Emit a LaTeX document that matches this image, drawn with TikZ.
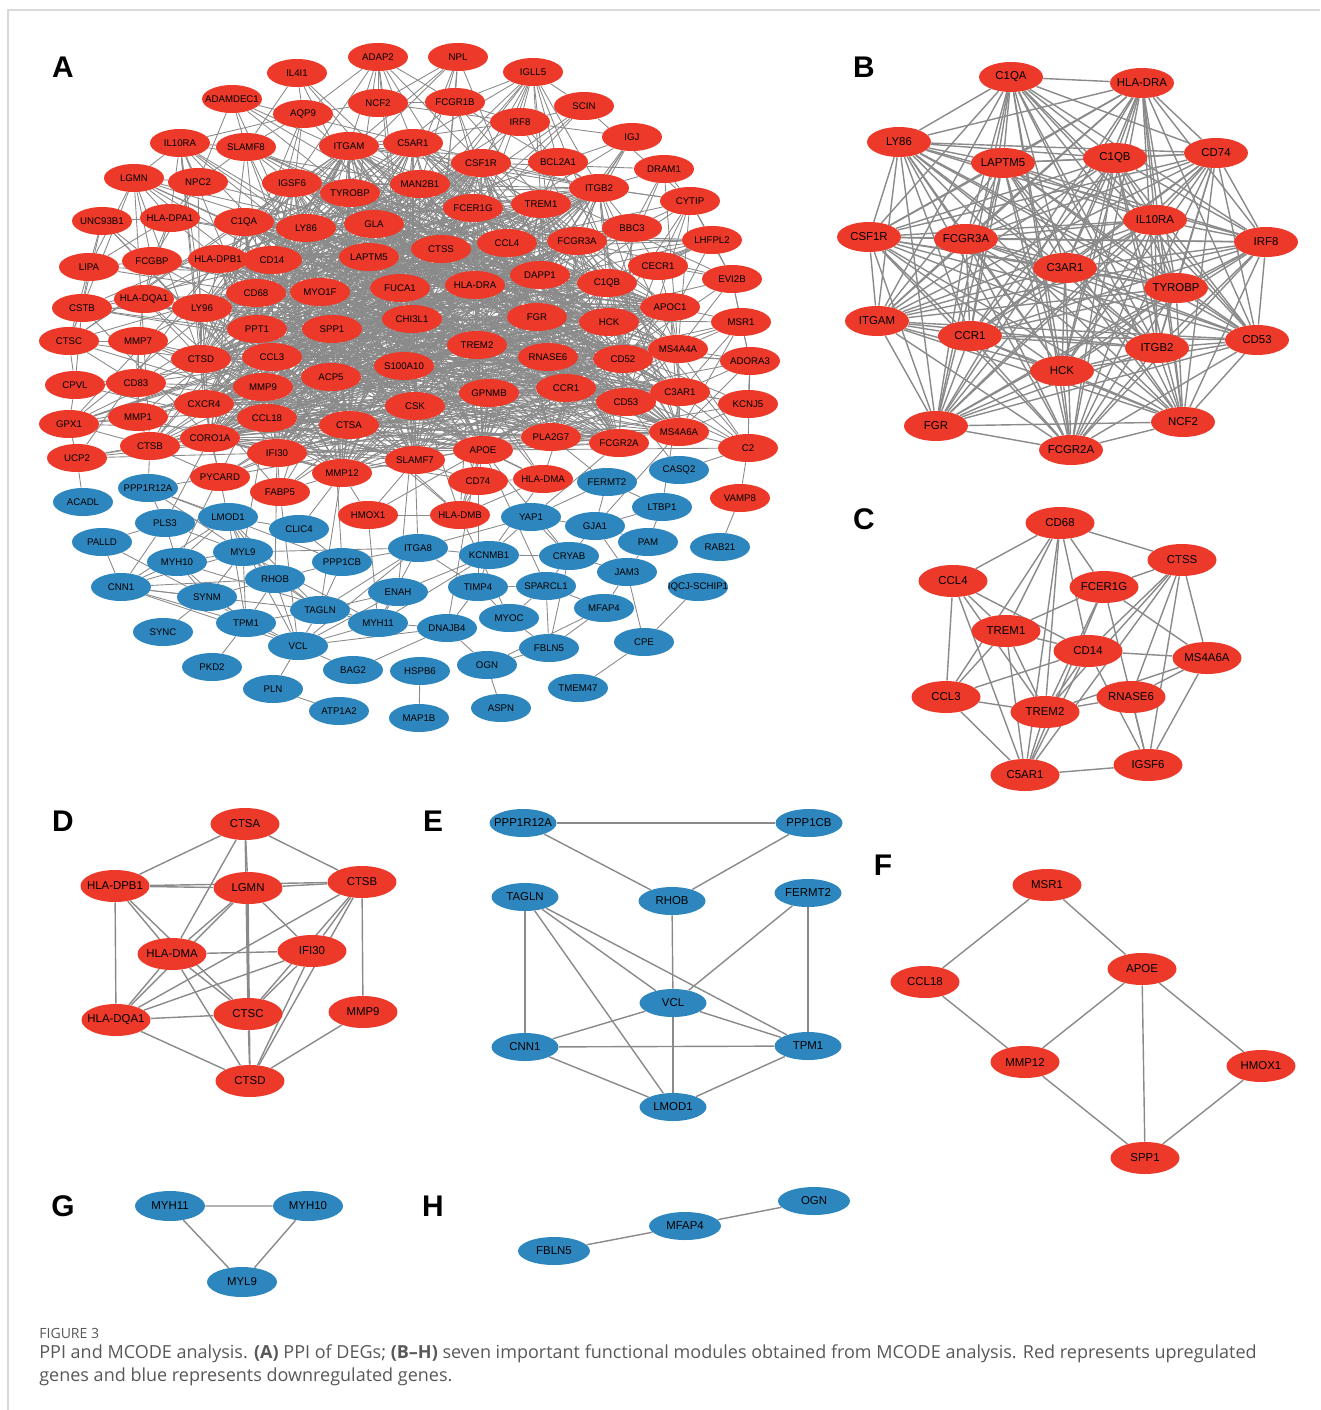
\documentclass[tikz,border=0pt]{standalone}
\usepackage{fontspec}
\setmainfont{Liberation Sans}
\newfontfamily\capfont{Open Sans}
\usetikzlibrary{shapes.geometric,backgrounds}

\definecolor{upred}{RGB}{236,57,42}
\definecolor{downblue}{RGB}{46,134,190}
\definecolor{linkgray}{RGB}{138,138,138}
\definecolor{captext}{RGB}{88,88,88}

\def\coreA{ITGAM,C5AR1,CSF1R,MAN2B1,TYROBP,IGSF6,FCER1G,TREM1,ITGB2,C1QA,LY86,GLA,CTSS,CCL4,FCGR3A,LAPTM5,CD14,HLA-DPB1,DAPP1,C1QB,HLA-DRA,FUCA1,MYO1F,CD68,LY96,PPT1,SPP1,CHI3L1,FGR,HCK,TREM2,RNASE6,CD52,CCL3,CTSD,MMP9,ACP5,S100A10,GPNMB,CCR1,CD53,CSK,CTSA,CXCR4,CCL18,C3AR1,MS4A4A,APOC1,MS4A6A,PLA2G7,FCGR2A,APOE,SLAMF7,IFI30,CORO1A,MMP12}
\def\ringA{ADAP2,NPL,IL4I1,IGLL5,ADAMDEC1,NCF2,FCGR1B,AQP9,SCIN,IRF8,IGJ,IL10RA,SLAMF8,BCL2A1,DRAM1,LGMN,NPC2,CYTIP,UNC93B1,HLA-DPA1,BBC3,LHFPL2,LIPA,FCGBP,CECR1,EVI2B,HLA-DQA1,CSTB,MSR1,CTSC,MMP7,ADORA3,CPVL,CD83,KCNJ5,MMP1,GPX1,CTSB,C2,UCP2,PYCARD,CD74,HLA-DMA,FABP5,HLA-DMB,HMOX1}
\def\listB{C1QA,HLA-DRA,LY86,LAPTM5,C1QB,CD74,IL10RA,CSF1R,FCGR3A,IRF8,C3AR1,TYROBP,ITGAM,CCR1,ITGB2,CD53,HCK,FGR,NCF2,FCGR2A}

\begin{document}
\begin{tikzpicture}[x=0.02cm,y=-0.02cm,
    gene/.style={ellipse,inner sep=0pt,text=black,
      execute at begin node={\hbox to 0pt\bgroup\hss},
      execute at end node={\hss\egroup}},
    upA/.style={gene,fill=upred,minimum width=1.2cm,minimum height=0.56cm,font=\fontsize{5.5}{6}\selectfont},
    downA/.style={upA,fill=downblue},
    upM/.style={gene,fill=upred,minimum width=1.38cm,minimum height=0.64cm,font=\fontsize{6.5}{7}\selectfont},
    downM/.style={upM,fill=downblue,minimum width=1.34cm,minimum height=0.56cm},
    linkA/.style={draw=linkgray,line width=0.5pt},
    linkM/.style={draw=linkgray,line width=0.8pt},
    panel/.style={font=\fontsize{17}{17}\selectfont\bfseries}]
  \useasboundingbox (0,0) rectangle (1320,1410);
  \draw[black!15,line width=0.6pt] (8,1410) -- (8,10) -- (1320,10);

  % A: whole network
  \node[panel] (labA) at (63,67) {A};
  \foreach \g/\x/\y in {ADAP2/378/57,NPL/458/57,IL4I1/297/73,IGLL5/533/72,ADAMDEC1/232/99,NCF2/378/103,FCGR1B/455/102,AQP9/303/114,SCIN/584/106,IRF8/520/122,IGJ/632/137,IL10RA/180/143,SLAMF8/246/147,ITGAM/349/146,C5AR1/413/143,CSF1R/481/163,BCL2A1/558/162,DRAM1/664/169,LGMN/134/178,NPC2/198/182,IGSF6/292/183,TYROBP/350/193,MAN2B1/420/184,ITGB2/599/188,CYTIP/690/201,FCER1G/473/208,TREM1/541/204,UNC93B1/102/221,HLA-DPA1/170/218,C1QA/244/222,LY86/306/228,GLA/374/224,BBC3/632/228,FCGR3A/577/241,LHFPL2/712/240,CTSS/441/249,CCL4/507/243,LIPA/89/267,FCGBP/152/261,HLA-DPB1/218/259,CD14/272/260,LAPTM5/369/257,CECR1/658/266,DAPP1/540/275,EVI2B/732/279,C1QB/607/283,CD68/256/293,MYO1F/320/292,FUCA1/400/288,HLA-DRA/475/285,HLA-DQA1/144/299,CSTB/82/308,LY96/202/308,APOC1/670/307,CHI3L1/412/319,FGR/537/317,HCK/609/322,MSR1/741/322,PPT1/257/329,SPP1/332/329,CTSC/69/341,MMP7/138/341,TREM2/477/345,MS4A4A/678/349,CTSD/201/359,CCL3/272/357,RNASE6/548/357,CD52/623/359,ADORA3/750/361,S100A10/404/366,CPVL/75/385,CD83/136/383,MMP9/263/387,ACP5/331/377,GPNMB/489/393,CCR1/566/388,C3AR1/680/392,CD53/626/402,KCNJ5/748/404,CXCR4/204/404,CSK/415/406,MMP1/138/417,CCL18/267/418,GPX1/69/424,CTSA/349/425,MS4A6A/679/432,CTSB/150/446,CORO1A/210/438,PLA2G7/551/437,FCGR2A/619/443,C2/748/448,IFI30/277/453,SLAMF7/415/460,APOE/483/450,UCP2/77/458,MMP12/342/473,PYCARD/220/477,CD74/478/481,HLA-DMA/543/479,FABP5/280/492,VAMP8/740/498,HMOX1/368/515,HLA-DMB/460/515}
    \node[upA] (\g) at (\x,\y) {\g};
  \foreach \g/\x/\y in {CASQ2/679/470,FERMT2/607/482,PPP1R12A/148/488,ACADL/83/502,LTBP1/662/507,PLS3/165/523,LMOD1/228/517,YAP1/531/517,GJA1/595/526,CLIC4/299/529,PALLD/102/542,PAM/648/542,RAB21/720/547,MYL9/243/552,ITGA8/418/548,KCNMB1/489/555,CRYAB/569/556,MYH10/177/562,PPP1CB/342/562,JAM3/627/572,RHOB/275/579,ENAH/398/592,TIMP4/478/587,SPARCL1/546/586,IQCJ-SCHIP1/698/587,CNN1/121/587,SYNM/207/597,MFAP4/604/608,TAGLN/320/610,TPM1/246/623,MYH11/378/623,DNAJB4/447/628,MYOC/509/618,SYNC/163/632,VCL/298/646,FBLN5/549/648,CPE/644/642,PKD2/212/667,BAG2/353/670,HSPB6/420/671,OGN/487/665,PLN/273/689,TMEM47/578/688,ATP1A2/339/711,MAP1B/419/718,ASPN/501/708}
    \node[downA] (\g) at (\x,\y) {\g};

  \begin{scope}[on background layer]
    \pgfmathsetseed{11}
    \foreach \a [count=\i] in \coreA {
      \foreach \b [count=\j] in \coreA {
        \ifnum\j>\i
          \pgfmathrandominteger{\r}{1}{100}
          \ifnum\r<56 \draw[linkA] (\a) -- (\b);\fi
        \fi
      }
    }
    \foreach \a in \ringA {
      \foreach \b in \coreA {
        \pgfmathrandominteger{\r}{1}{100}
        \ifnum\r<9 \draw[linkA] (\a) -- (\b);\fi
      }
    }
    \foreach \a/\b in {ADAP2/NCF2,ADAP2/ITGAM,ADAP2/C5AR1,ADAP2/FCGR1B,ADAP2/CSF1R,ADAP2/IGSF6,ADAP2/AQP9,NPL/NCF2,NPL/FCGR1B,IL4I1/SLAMF8,IL4I1/AQP9,IGLL5/IRF8,IGLL5/FCGR1B,IGLL5/CSF1R,IGLL5/BCL2A1,IGLL5/ITGB2,IGLL5/FCER1G,IGLL5/TREM1,IGLL5/SCIN,ADAMDEC1/SLAMF8,ADAMDEC1/NPC2,NCF2/AQP9,NCF2/FCGR1B,NCF2/IRF8,FCGR1B/IRF8,AQP9/SLAMF8,AQP9/IL10RA,SCIN/IRF8,SCIN/CYTIP,IGJ/ITGB2,IGJ/IRF8,IRF8/BCL2A1,IL10RA/SLAMF8,IL10RA/NPC2,IL10RA/LGMN,IL10RA/HLA-DPA1,SLAMF8/NPC2,BCL2A1/ITGB2,DRAM1/ITGB2,DRAM1/BBC3,DRAM1/CYTIP,LGMN/HLA-DPA1,LGMN/NPC2,LGMN/LIPA,LGMN/FCGBP,LGMN/CTSB,LGMN/CTSD,LGMN/CTSC,NPC2/HLA-DPA1,NPC2/FCGBP,CYTIP/ITGB2,CYTIP/BBC3,CYTIP/CECR1,CYTIP/EVI2B,CYTIP/LHFPL2,UNC93B1/HLA-DPA1,UNC93B1/LIPA,UNC93B1/FCGBP,UNC93B1/CSTB,HLA-DPA1/HLA-DPB1,HLA-DPA1/FCGBP,HLA-DPA1/HLA-DQA1,HLA-DPA1/LIPA,BBC3/ITGB2,BBC3/CECR1,LHFPL2/EVI2B,LHFPL2/CECR1,LHFPL2/FCGR3A,LIPA/CSTB,LIPA/FCGBP,LIPA/CTSC,FCGBP/HLA-DQA1,CECR1/EVI2B,CECR1/APOC1,EVI2B/MSR1,EVI2B/MS4A4A,EVI2B/ADORA3,HLA-DQA1/CSTB,HLA-DQA1/LY96,HLA-DQA1/MMP7,HLA-DQA1/CTSD,HLA-DQA1/HLA-DPB1,CSTB/CTSC,CSTB/CPVL,CSTB/LY96,APOC1/MSR1,APOC1/MS4A4A,MSR1/MS4A4A,MSR1/ADORA3,MSR1/C3AR1,MSR1/CD52,CTSC/MMP7,CTSC/CPVL,CTSC/CTSD,CTSC/CD83,MMP7/CD83,MMP7/MMP1,MMP7/MMP9,MMP7/CTSD,MS4A4A/ADORA3,ADORA3/C3AR1,ADORA3/C2,ADORA3/KCNJ5,CPVL/CD83,CPVL/GPX1,CD83/MMP1,CD83/CXCR4,CD83/MMP9,KCNJ5/C3AR1,KCNJ5/C2,KCNJ5/MS4A6A,MMP1/GPX1,MMP1/CTSB,MMP1/MMP9,MMP1/MMP12,MMP1/CXCR4,GPX1/CTSB,GPX1/UCP2,CTSB/CORO1A,CTSB/CTSD,CTSB/PYCARD,C2/MS4A6A,C2/C3AR1,C2/CASQ2,UCP2/ACADL,UCP2/CTSB,PYCARD/CORO1A,PYCARD/IFI30,PYCARD/PPP1R12A,CD74/HLA-DMA,CD74/HLA-DMB,CD74/APOE,HLA-DMA/HLA-DMB,HLA-DMA/APOE,FABP5/MMP12,FABP5/IFI30,FABP5/SPP1,VAMP8/RAB21,VAMP8/C2,HMOX1/MMP12,HMOX1/SLAMF7,HMOX1/APOE,HMOX1/HLA-DMB,HLA-DMB/APOE}
      \draw[linkA] (\a) -- (\b);
    \foreach \a/\b in {PPP1R12A/PPP1CB,PPP1R12A/PLS3,PPP1R12A/MYL9,PPP1R12A/LMOD1,PLS3/PALLD,PLS3/MYH10,PLS3/LMOD1,PLS3/CNN1,PLS3/MYL9,LMOD1/MYL9,LMOD1/MYH10,LMOD1/RHOB,LMOD1/TAGLN,LMOD1/CNN1,LMOD1/TPM1,LMOD1/VCL,LMOD1/CLIC4,MYL9/MYH10,MYL9/RHOB,MYL9/CNN1,MYL9/TPM1,MYL9/TAGLN,MYL9/MYH11,MYL9/ITGA8,MYL9/SYNM,MYH10/CNN1,MYH10/SYNM,MYH10/TPM1,MYH10/MYH11,PALLD/SYNM,PALLD/CNN1,CNN1/SYNM,CNN1/TPM1,CNN1/RHOB,CNN1/TAGLN,CNN1/VCL,SYNM/SYNC,SYNM/TPM1,SYNM/RHOB,SYNM/VCL,TPM1/PKD2,TPM1/VCL,TPM1/RHOB,TPM1/TAGLN,RHOB/PPP1CB,RHOB/VCL,RHOB/TAGLN,CLIC4/PPP1CB,PPP1CB/TAGLN,PPP1CB/ITGA8,ITGA8/KCNMB1,ITGA8/TAGLN,ITGA8/VCL,ITGA8/MYH11,ITGA8/YAP1,KCNMB1/TIMP4,KCNMB1/CRYAB,KCNMB1/YAP1,KCNMB1/ENAH,KCNMB1/MYH11,ENAH/TAGLN,ENAH/MYH11,ENAH/VCL,TAGLN/MYH11,TAGLN/VCL,VCL/MYH11,VCL/PLN,VCL/DNAJB4,VCL/BAG2,PLN/ATP1A2,BAG2/DNAJB4,DNAJB4/OGN,DNAJB4/TIMP4,DNAJB4/MYH11,HSPB6/MAP1B,OGN/ASPN,OGN/FBLN5,OGN/MFAP4,MYOC/FBLN5,MYOC/TIMP4,MYOC/SPARCL1,TIMP4/SPARCL1,TIMP4/ITGA8,SPARCL1/CRYAB,SPARCL1/FBLN5,SPARCL1/MFAP4,CRYAB/GJA1,CRYAB/JAM3,CRYAB/FBLN5,CRYAB/YAP1,GJA1/YAP1,GJA1/PAM,GJA1/JAM3,GJA1/LTBP1,PAM/LTBP1,PAM/JAM3,JAM3/MFAP4,JAM3/CPE,MFAP4/FBLN5,IQCJ-SCHIP1/CPE,CPE/TMEM47,LTBP1/FERMT2,FERMT2/YAP1,FERMT2/GJA1}
      \draw[linkA] (\a) -- (\b);
    \foreach \a/\b in {CTSB/PPP1R12A,CORO1A/PLS3,CXCR4/LMOD1,MMP12/CLIC4,SLAMF7/ITGA8,HLA-DMA/KCNMB1,FCGR2A/YAP1,MS4A6A/GJA1,C3AR1/LTBP1,APOE/CRYAB,APOE/SPARCL1,CD74/TIMP4,CSK/ENAH,GPNMB/DNAJB4,CTSA/TAGLN,IFI30/RHOB,FABP5/VCL,HMOX1/MYH11,HLA-DMB/MYOC,PLA2G7/FERMT2,CD53/CASQ2,CCL18/MYL9,MMP9/MYH10,ACP5/PPP1CB}
      \draw[linkA] (\a) -- (\b);
  \end{scope}

  % B
  \node[panel] (labB) at (864,67) {B};
  \foreach \g/\x/\y in {C1QA/1011/77,HLA-DRA/1142/83,LY86/899/142,LAPTM5/1003/163,C1QB/1115/158,CD74/1216/153,IL10RA/1155/220,CSF1R/869/237,FCGR3A/966/239,IRF8/1266/242,C3AR1/1065/268,TYROBP/1176/288,ITGAM/877/321,CCR1/970/336,ITGB2/1157/348,CD53/1257/340,HCK/1062/371,FGR/936/426,NCF2/1183/422,FCGR2A/1071/450}
    \node[upM,minimum width=1.28cm,minimum height=0.6cm] (b\g) at (\x,\y) {\g};
  \begin{scope}[on background layer]
    \foreach \a [count=\i] in \listB {
      \foreach \b [count=\j] in \listB {
        \ifnum\j>\i \draw[linkM] (b\a) -- (b\b);\fi
      }
    }
  \end{scope}

  % C
  \node[panel] (labC) at (864,519) {C};
  \foreach \g/\x/\y in {CD68/1060/523,CTSS/1182/560,CCL4/953/581,FCER1G/1104/587,TREM1/1006/631,CD14/1088/651,MS4A6A/1207/658,CCL3/946/697,TREM2/1045/712,RNASE6/1131/697,C5AR1/1025/775,IGSF6/1148/765}
    \node[upM] (c\g) at (\x,\y) {\g};
  \begin{scope}[on background layer]
    \foreach \a/\b in {CD68/CTSS,CD68/CCL4,CD68/FCER1G,CD68/TREM1,CD68/CCL3,CD68/TREM2,CD68/C5AR1,CD68/CD14,CTSS/FCER1G,CTSS/CD14,CTSS/TREM2,CTSS/RNASE6,CTSS/MS4A6A,CTSS/IGSF6,CTSS/C5AR1,CCL4/TREM1,CCL4/CD14,CCL4/CCL3,CCL4/TREM2,CCL4/C5AR1,FCER1G/TREM1,FCER1G/TREM2,FCER1G/C5AR1,FCER1G/IGSF6,FCER1G/MS4A6A,TREM1/CD14,TREM1/CCL3,TREM1/TREM2,TREM1/C5AR1,CD14/MS4A6A,CD14/CCL3,CD14/TREM2,CD14/C5AR1,CD14/IGSF6,MS4A6A/RNASE6,MS4A6A/TREM2,MS4A6A/IGSF6,CCL3/TREM2,CCL3/C5AR1,TREM2/RNASE6,TREM2/C5AR1,RNASE6/IGSF6,C5AR1/IGSF6}
      \draw[linkM] (c\a) -- (c\b);
  \end{scope}

  % D
  \node[panel] (labD) at (63,821) {D};
  \foreach \g/\x/\y in {CTSA/245/824,HLA-DPB1/115/886,LGMN/248/888,CTSB/362/882,HLA-DMA/172/954,IFI30/312/951,HLA-DQA1/116/1020,CTSC/248/1014,MMP9/363/1012,CTSD/250/1081}
    \node[upM] (d\g) at (\x,\y) {\g};
  \begin{scope}[on background layer]
    \foreach \a/\b in {CTSA/HLA-DPB1,CTSA/LGMN,CTSA/CTSB,CTSA/HLA-DMA,CTSA/CTSC,HLA-DPB1/LGMN,HLA-DPB1/CTSB,HLA-DPB1/HLA-DMA,HLA-DPB1/HLA-DQA1,HLA-DPB1/CTSC,LGMN/CTSB,LGMN/HLA-DMA,LGMN/CTSC,LGMN/IFI30,LGMN/CTSD,CTSB/HLA-DQA1,CTSB/IFI30,CTSB/CTSD,CTSB/MMP9,CTSB/CTSC,HLA-DMA/IFI30,HLA-DMA/HLA-DQA1,HLA-DMA/CTSC,HLA-DMA/CTSD,HLA-DQA1/CTSC,HLA-DQA1/CTSD,HLA-DQA1/LGMN,IFI30/CTSC,IFI30/CTSD,IFI30/HLA-DQA1,CTSC/CTSD,MMP9/CTSD}
      \draw[linkM] (d\a) -- (d\b);
  \end{scope}

  % E
  \node[panel] (labE) at (433,821) {E};
  \foreach \g/\x/\y in {PPP1R12A/523/823,PPP1CB/809/823,TAGLN/525/897,RHOB/672/901,FERMT2/808/893,VCL/673/1003,CNN1/525/1047,TPM1/808/1046,LMOD1/673/1107}
    \node[downM] (e\g) at (\x,\y) {\g};
  \begin{scope}[on background layer]
    \foreach \a/\b in {PPP1R12A/PPP1CB,PPP1R12A/RHOB,PPP1CB/RHOB,TAGLN/CNN1,TAGLN/VCL,TAGLN/TPM1,TAGLN/LMOD1,RHOB/VCL,FERMT2/VCL,FERMT2/TPM1,VCL/TPM1,VCL/CNN1,VCL/LMOD1,CNN1/TPM1,CNN1/LMOD1,TPM1/LMOD1}
      \draw[linkM] (e\a) -- (e\b);
  \end{scope}

  % F
  \node[panel] (labF) at (883,865) {F};
  \foreach \g/\x/\y in {MSR1/1047/885,CCL18/925/982,APOE/1142/969,MMP12/1025/1062,HMOX1/1261/1066,SPP1/1145/1158}
    \node[upM] (f\g) at (\x,\y) {\g};
  \begin{scope}[on background layer]
    \foreach \a/\b in {MSR1/CCL18,MSR1/APOE,CCL18/MMP12,APOE/MMP12,APOE/HMOX1,APOE/SPP1,MMP12/SPP1,HMOX1/SPP1}
      \draw[linkM] (f\a) -- (f\b);
  \end{scope}

  % G
  \node[panel] (labG) at (63,1206) {G};
  \foreach \g/\x/\y in {MYH11/170/1206,MYH10/308/1206,MYL9/242/1282}
    \node[downM,minimum width=1.4cm,minimum height=0.6cm] (g\g) at (\x,\y) {\g};
  \begin{scope}[on background layer]
    \draw[linkM] (gMYH11) -- (gMYH10) -- (gMYL9) -- (gMYH11);
  \end{scope}

  % H
  \node[panel] (labH) at (433,1206) {H};
  \foreach \g/\x/\y in {OGN/814/1201,MFAP4/685/1226,FBLN5/554/1251}
    \node[downM,minimum width=1.44cm] (h\g) at (\x,\y) {\g};
  \begin{scope}[on background layer]
    \draw[linkM] (hFBLN5) -- (hMFAP4) -- (hOGN);
  \end{scope}

  % caption
  \node[anchor=base west,inner sep=0pt,text=captext,font=\capfont\fontsize{8}{9}\selectfont] (capno) at (39,1338) {FIGURE 3};
  \node[anchor=base west,inner sep=0pt,text=captext,font=\capfont\fontsize{10.25}{12}\selectfont] (cap1) at (39,1358)
    {PPI and MCODE analysis. \textbf{(A)} PPI of DEGs; \textbf{(B–H)} seven important functional modules obtained from MCODE analysis. Red represents upregulated};
  \node[anchor=base west,inner sep=0pt,text=captext,font=\capfont\fontsize{10.25}{12}\selectfont] (cap2) at (39,1381)
    {genes and blue represents downregulated genes.};
\end{tikzpicture}
\end{document}
